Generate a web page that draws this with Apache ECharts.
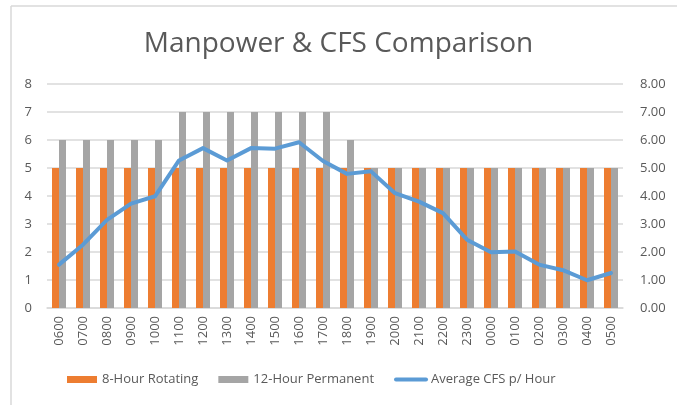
<!DOCTYPE html>
<html>
<head>
<meta charset="utf-8">
<script src="https://cdn.jsdelivr.net/npm/echarts@6/dist/echarts.min.js"></script>
<style>
  html, body { margin: 0; padding: 0; background: #fff; }
  #chart { width: 677px; height: 405px; }
</style>
</head>
<body>
<div id="chart"></div>
<script>
var hours = ['0600', '0700', '0800', '0900', '1000', '1100', '1200', '1300', '1400', '1500', '1600', '1700',
             '1800', '1900', '2000', '2100', '2200', '2300', '0000', '0100', '0200', '0300', '0400', '0500'];
var rotating8 = [5, 5, 5, 5, 5, 5, 5, 5, 5, 5, 5, 5, 5, 5, 5, 5, 5, 5, 5, 5, 5, 5, 5, 5];
var permanent12 = [6, 6, 6, 6, 6, 7, 7, 7, 7, 7, 7, 7, 6, 5, 5, 5, 5, 5, 5, 5, 5, 5, 5, 5];
var avgCfs = [1.55, 2.26, 3.15, 3.73, 3.99, 5.27, 5.71, 5.27, 5.71, 5.69, 5.92, 5.25,
              4.79, 4.88, 4.10, 3.80, 3.39, 2.44, 1.99, 2.02, 1.55, 1.35, 0.99, 1.25];

var textColor = '#595959';
var font = 'Open Sans';

var myChart = echarts.init(document.getElementById('chart'));

var option = {
    animation: false,
    textStyle: { fontFamily: font },
    title: {
        text: 'Manpower & CFS Comparison',
        left: 'center',
        top: 25,
        textStyle: { fontSize: 28, fontWeight: 'normal', color: textColor, fontFamily: font }
    },
    graphic: [
        { type: 'line', shape: { x1: 11, y1: 6, x2: 677, y2: 6 }, style: { stroke: '#d9d9d9', lineWidth: 1.5 } },
        { type: 'line', shape: { x1: 11, y1: 6, x2: 11, y2: 405 }, style: { stroke: '#d9d9d9', lineWidth: 1.5 } }
    ],
    legend: {
        bottom: 14,
        left: 62,
        itemGap: 20,
        itemWidth: 30,
        itemHeight: 7,
        textStyle: { color: textColor, fontSize: 13, fontFamily: font },
        data: [
            { name: '8-Hour Rotating', icon: 'rect' },
            { name: '12-Hour Permanent', icon: 'rect' },
            { name: 'Average CFS p/ Hour', itemStyle: { opacity: 0 }, lineStyle: { width: 4, color: '#5B9BD5' } }
        ]
    },
    grid: {
        left: 47,
        right: 54,
        top: 84,
        bottom: 97
    },
    xAxis: [{
        type: 'category',
        data: hours,
        axisLine: { lineStyle: { color: '#d9d9d9', width: 1.5 } },
        axisTick: { show: false },
        axisLabel: { rotate: 90, color: textColor, fontSize: 13, margin: 8, interval: 0 }
    }],
    yAxis: [{
        type: 'value',
        min: 0,
        max: 8,
        interval: 1,
        axisLine: { show: false },
        axisTick: { show: false },
        axisLabel: { color: textColor, fontSize: 13, margin: 15 },
        splitLine: { lineStyle: { color: '#d9d9d9', width: 1.5 } }
    }, {
        type: 'value',
        min: 0,
        max: 8,
        interval: 1,
        axisLine: { show: false },
        axisTick: { show: false },
        axisLabel: {
            color: textColor, fontSize: 13, margin: 17,
            formatter: function (v) { return v.toFixed(2); }
        },
        splitLine: { show: false }
    }],
    series: [{
        name: '8-Hour Rotating',
        type: 'bar',
        data: rotating8,
        barWidth: 7,
        barGap: '0%',
        itemStyle: { color: '#ED7D31' }
    }, {
        name: '12-Hour Permanent',
        type: 'bar',
        data: permanent12,
        barWidth: 7,
        barGap: '0%',
        itemStyle: { color: '#A5A5A5' }
    }, {
        name: 'Average CFS p/ Hour',
        type: 'line',
        yAxisIndex: 1,
        data: avgCfs,
        symbol: 'none',
        lineStyle: { color: '#5B9BD5', width: 4, join: 'round', cap: 'round' },
        itemStyle: { color: '#5B9BD5' }
    }]
};

myChart.setOption(option);
</script>
</body>
</html>
